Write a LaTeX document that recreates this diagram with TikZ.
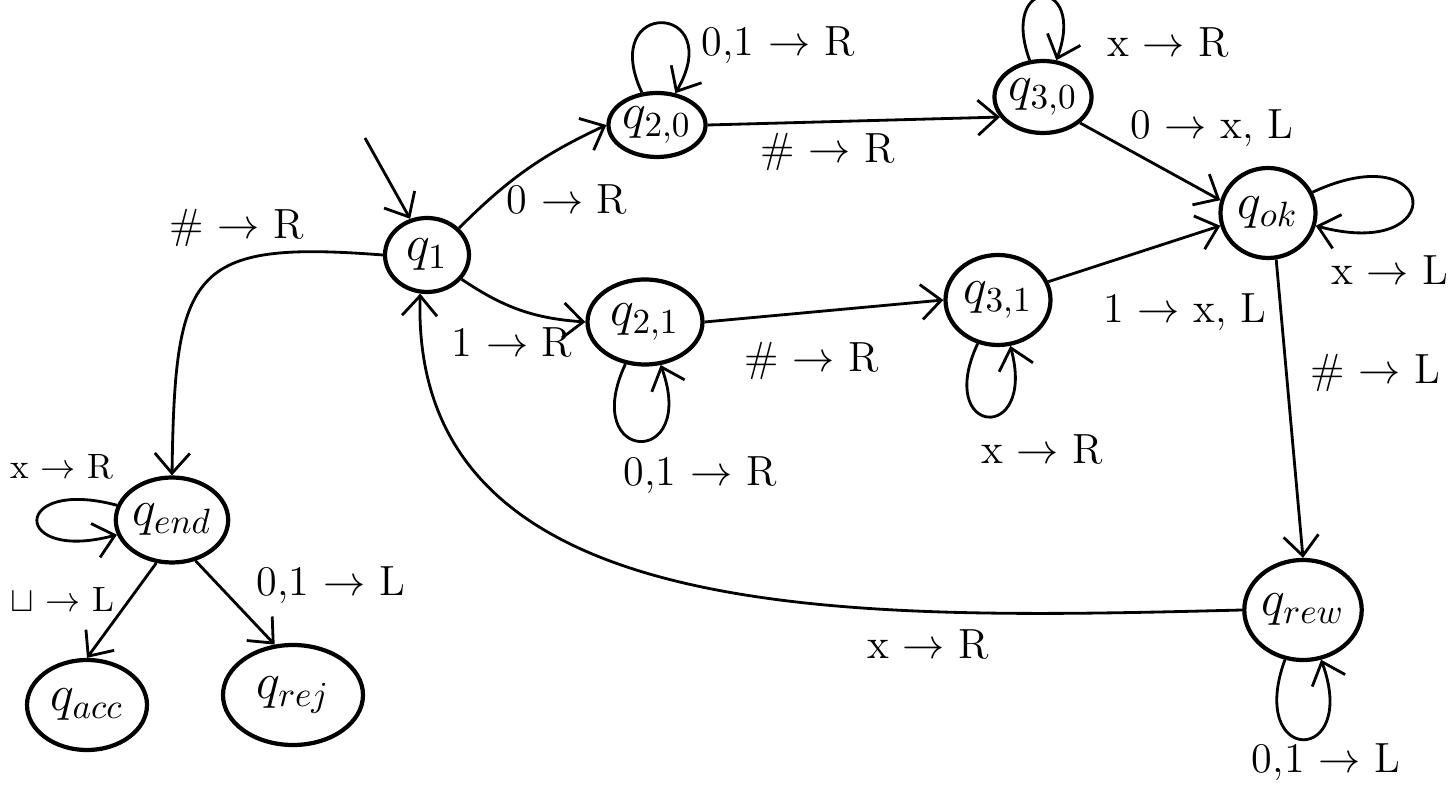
\documentclass[tikz,border=0pt]{standalone}
\usetikzlibrary{arrows.meta, shapes.geometric}

\tikzset{
  state/.style={draw, very thick, ellipse, inner sep=0pt, font=\Large},
  edge/.style={thick, -{Straight Barb[length=2mm,width=3.5mm]}},
  lbl/.style={font=\large},
}

\begin{document}
\begin{tikzpicture}
  \useasboundingbox (0,0) rectangle (14.52,-7.86);

  % states
  \node[state, minimum width=0.84cm, minimum height=0.74cm] (q1) at (4.27,-2.55) {$q_1$};
  \node[state, minimum width=0.92cm, minimum height=0.64cm] (q20) at (6.57,-1.25) {$q_{2,0}$};
  \node[state, minimum width=0.92cm, minimum height=0.72cm] (q30) at (10.43,-0.97) {$q_{3,0}$};
  \node[state, minimum width=0.95cm, minimum height=0.90cm] (qok) at (12.68,-2.13) {$q_{ok}$};
  \node[state, minimum width=1.15cm, minimum height=0.85cm] (q21) at (6.45,-3.22) {$q_{2,1}$};
  \node[state, minimum width=1.05cm, minimum height=0.90cm] (q31) at (9.98,-3.00) {$q_{3,1}$};
  \node[state, minimum width=1.10cm, minimum height=1.00cm] (qrew) at (13.03,-6.10) {$q_{rew}$};
  \node[state, minimum width=1.05cm, minimum height=0.85cm] (qend) at (1.72,-5.20) {$q_{end}$};
  \node[state, minimum width=1.20cm, minimum height=0.90cm] (qacc) at (0.87,-7.05) {$q_{acc}$};
  \node[state, minimum width=1.40cm, minimum height=1.00cm] (qrej) at (2.93,-6.95) {$q_{rej}$};

  % initial arrow
  \coordinate (init) at (3.65,-1.38);
  \draw[edge] (init) -- (q1.115);

  % first symbol
  \draw[edge] (q1.40) to[bend left=10] (q20.west);
  \draw[edge] (q1.-35) to[bend right=15] (q21.west);
  \draw[edge] (q1.west) .. controls (1.9,-2.4) and (1.75,-2.7) .. (qend.north);

  % scan to the second block
  \draw[edge] (q20) to[out=115, in=60, looseness=8, min distance=1cm] (q20);
  \draw[edge] (q20.east) -- (q30.205);
  \draw[edge] (q30) to[out=110, in=70, looseness=8, min distance=0.9cm] (q30);
  \draw[edge] (q30.-35) -- (qok.165);

  \draw[edge] (q21) to[out=-115, in=-70, looseness=8, min distance=0.9cm] (q21);
  \draw[edge] (q21.east) -- (q31.west);
  \draw[edge] (q31) to[out=-115, in=-75, looseness=8, min distance=1cm] (q31);
  \draw[edge] (q31.20) -- (qok.195);

  % go back
  \draw[edge] (qok) to[out=25, in=-15, looseness=8, min distance=1.4cm] (qok);
  \draw[edge] (qok.-80) -- (qrew.north);
  \draw[edge] (qrew) to[out=-110, in=-70, looseness=8, min distance=1cm] (qrew);
  \draw[edge] (qrew.west) .. controls (8.5,-6.2) and (4.1,-6.3) .. (q1.-100);

  % end check
  \draw[edge] (qend) to[out=165, in=195, looseness=8, min distance=1.1cm] (qend);
  \draw[edge] (qend.-110) -- (qacc.north);
  \draw[edge] (qend.-60) -- (qrej.110);

  % transition labels
  \node[lbl] (l20) at (7.78,-0.45) {0,1 $\to$ R};
  \node[lbl] (l30) at (11.68,-0.43) {x $\to$ R};
  \node[lbl] (l2030) at (8.28,-1.52) {\# $\to$ R};
  \node[lbl] (l30ok) at (12.12,-1.28) {0 $\to$ x, L};
  \node[lbl] (l120) at (5.67,-2.00) {0 $\to$ R};
  \node[lbl] (l121) at (5.12,-3.43) {1 $\to$ R};
  \node[lbl] (l1end) at (2.37,-2.28) {\# $\to$ R};
  \node[lbl] (l2131) at (8.12,-3.61) {\# $\to$ R};
  \node[lbl] (l21) at (7.00,-4.75) {0,1 $\to$ R};
  \node[lbl] (l31ok) at (11.85,-3.12) {1 $\to$ x, L};
  \node[lbl] (l31) at (10.42,-4.50) {x $\to$ R};
  \node[lbl] (lok) at (13.90,-2.70) {x $\to$ L};
  \node[lbl] (lokrew) at (13.75,-3.73) {\# $\to$ L};
  \node[lbl] (lrew) at (13.26,-7.62) {0,1 $\to$ L};
  \node[lbl] (lrew1) at (9.28,-6.45) {x $\to$ R};
  \node[lbl, font=\normalsize] (lend) at (0.62,-4.67) {x $\to$ R};
  \node[lbl, font=\normalsize] (lacc) at (0.62,-6.00) {$\sqcup$ $\to$ L};
  \node[lbl] (lrej) at (3.31,-5.85) {0,1 $\to$ L};
\end{tikzpicture}
\end{document}
